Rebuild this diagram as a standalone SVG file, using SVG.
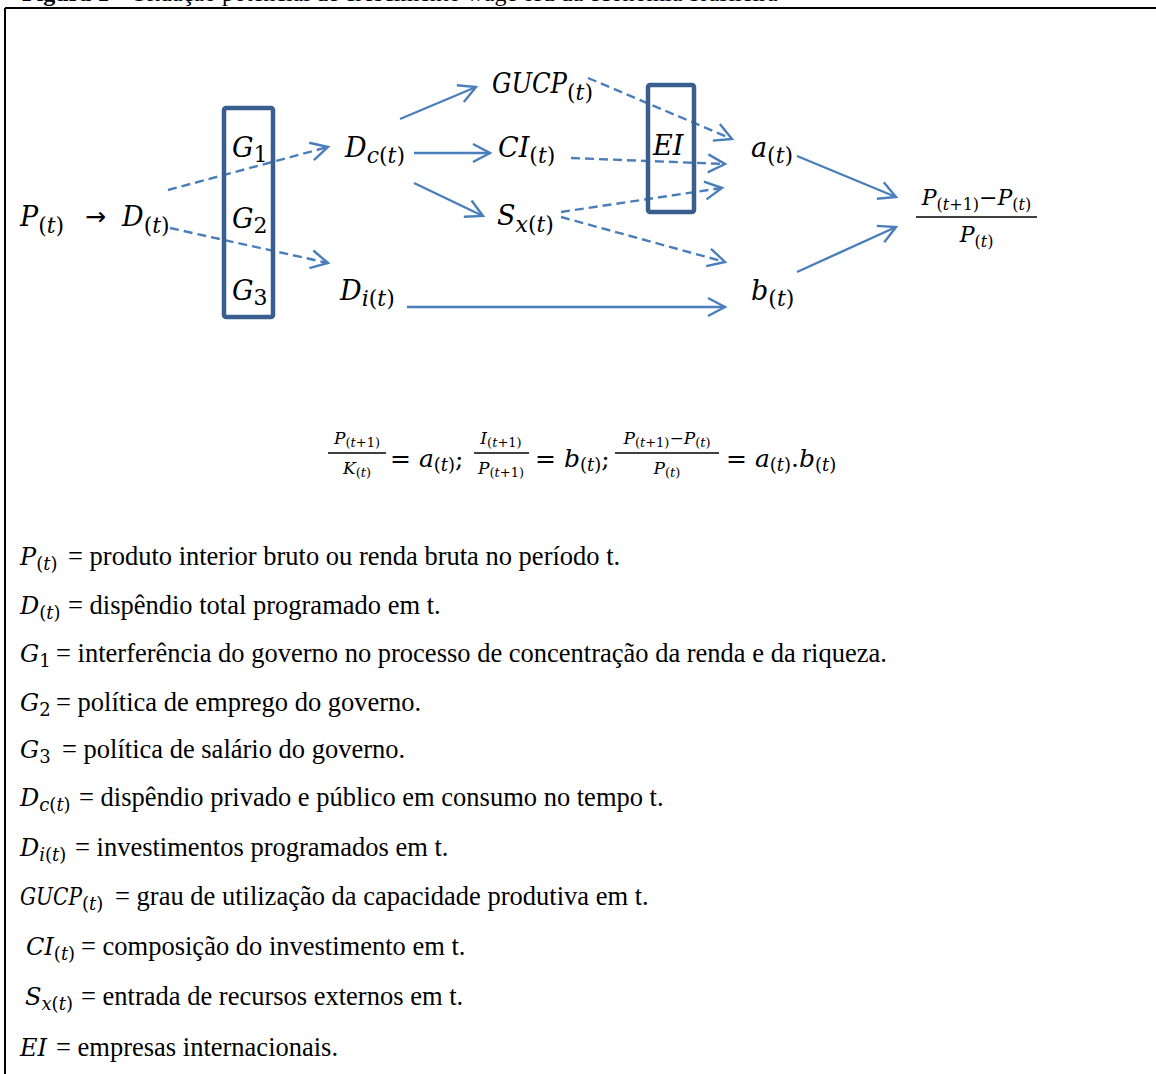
<svg xmlns="http://www.w3.org/2000/svg" width="1156" height="1074" viewBox="0 0 1156 1074">
  <style>
    .m { font-family: "DejaVu Serif", "Liberation Serif", serif; font-style: italic; fill: #000; }
    .u { font-style: normal; }
    .n { font-size: 27px; }
    .ns { font-size: 22px; }
    .lg { font-size: 24px; }
    .lgs { font-size: 18px; }
    .fm { font-size: 25px; }
    .fn { font-size: 17px; }
    .fns { font-size: 13px; }
    .fs { font-size: 18px; }
    .rf { font-size: 22px; }
    .rfs { font-size: 16px; }
    .t { font-family: "Liberation Serif", "Times New Roman", serif; font-size: 26.5px; fill: #000; }
    .cap { font-family: "Liberation Serif", "Times New Roman", serif; font-size: 24px; fill: #000; }
    .box { fill: none; stroke: #3a5f8f; stroke-width: 4.5; }
    .ar { fill: none; stroke: #4a7ebb; stroke-width: 2.4; marker-end: url(#ah); }
    .da { stroke-dasharray: 9 5; }
    .bar { stroke: #000; stroke-width: 1.6; }
  </style>
  <defs>
    <marker id="ah" markerUnits="userSpaceOnUse" markerWidth="24" markerHeight="24" viewBox="-20 -12 24 24" refX="0" refY="0" orient="auto">
      <path d="M-17,-9 L0,0 L-17,9" fill="none" stroke="#4a7ebb" stroke-width="2.4" stroke-dasharray="none"/>
    </marker>
  </defs>

  <rect width="1156" height="1074" fill="#fff"/>

  <!-- caption, cut by the page top -->
  <text class="cap" x="22" y="1"><tspan font-weight="bold">Figura 1</tspan> – Situação potencial de crescimento wage-led da economia brasileira</text>

  <!-- frame -->
  <path d="M5,8 H1156 M5,8 V1074" fill="none" stroke="#000" stroke-width="2"/>

  <!-- connectors -->
  <g id="connectors">
    <line class="ar da" x1="168" y1="190" x2="328" y2="147"/>
    <line class="ar da" x1="170" y1="228" x2="328" y2="263"/>
    <line class="ar" x1="400" y1="119" x2="476" y2="87"/>
    <line class="ar" x1="414" y1="153" x2="490" y2="153"/>
    <line class="ar" x1="414" y1="183" x2="483" y2="216"/>
    <line class="ar da" x1="588" y1="78" x2="732" y2="139"/>
    <line class="ar da" x1="571" y1="158" x2="725" y2="164"/>
    <line class="ar da" x1="561" y1="212" x2="722" y2="188"/>
    <line class="ar da" x1="561" y1="217" x2="725" y2="262"/>
    <line class="ar" x1="407" y1="307" x2="725" y2="307"/>
    <line class="ar" x1="797" y1="156" x2="896" y2="197"/>
    <line class="ar" x1="797" y1="272" x2="896" y2="227"/>
  </g>

  <!-- nodes -->
  <g id="node-P">
    <text class="m n" x="20" y="226">P<tspan class="ns" dy="7"><tspan class="u">(</tspan>t<tspan class="u">)</tspan></tspan></text>
    <text x="85" y="225" font-family="DejaVu Sans, sans-serif" font-size="25" fill="#000">→</text>
  </g>
  <g id="node-D">
    <text class="m n" x="122" y="226">D<tspan class="ns" dy="7"><tspan class="u">(</tspan>t<tspan class="u">)</tspan></tspan></text>
  </g>
  <g id="node-G">
    <rect class="box" x="224" y="108" width="49" height="209" rx="2"/>
    <text class="m n" x="232" y="157">G<tspan class="ns u" dy="5">1</tspan></text>
    <text class="m n" x="232" y="228">G<tspan class="ns u" dy="5">2</tspan></text>
    <text class="m n" x="232" y="300">G<tspan class="ns u" dy="5">3</tspan></text>
  </g>
  <g id="node-Dc">
    <text class="m n" x="345" y="157">D<tspan class="ns" dy="6">c<tspan class="u">(</tspan>t<tspan class="u">)</tspan></tspan></text>
  </g>
  <g id="node-Di">
    <text class="m n" x="340" y="300">D<tspan class="ns" dy="6">i<tspan class="u">(</tspan>t<tspan class="u">)</tspan></tspan></text>
  </g>
  <g id="node-GUCP">
    <text class="m n" x="492" y="93"><tspan textLength="75" lengthAdjust="spacingAndGlyphs">GUCP</tspan><tspan class="ns" dy="7"><tspan class="u">(</tspan>t<tspan class="u">)</tspan></tspan></text>
  </g>
  <g id="node-CI">
    <text class="m n" x="498" y="157">CI<tspan class="ns" dy="6"><tspan class="u">(</tspan>t<tspan class="u">)</tspan></tspan></text>
  </g>
  <g id="node-Sx">
    <text class="m n" x="497" y="225">S<tspan class="ns" dy="7">x<tspan class="u">(</tspan>t<tspan class="u">)</tspan></tspan></text>
  </g>
  <g id="node-EI">
    <rect class="box" x="648" y="85" width="46" height="127" rx="2"/>
    <text class="m n" x="653" y="155">EI</text>
  </g>
  <g id="node-a">
    <text class="m n" x="751" y="157">a<tspan class="ns" dy="6"><tspan class="u">(</tspan>t<tspan class="u">)</tspan></tspan></text>
  </g>
  <g id="node-b">
    <text class="m n" x="751" y="300">b<tspan class="ns" dy="6"><tspan class="u">(</tspan>t<tspan class="u">)</tspan></tspan></text>
  </g>
  <g id="node-growth">
    <text class="m rf" x="976.5" y="205" text-anchor="middle">P<tspan class="rfs" dy="5"><tspan class="u">(</tspan>t<tspan class="u">+1)</tspan></tspan><tspan class="u" dy="-5">−</tspan>P<tspan class="rfs" dy="5"><tspan class="u">(</tspan>t<tspan class="u">)</tspan></tspan></text>
    <line class="bar" x1="916" y1="217" x2="1037" y2="217" stroke-width="2.2"/>
    <text class="m rf" x="976.5" y="242" text-anchor="middle">P<tspan class="rfs" dy="5"><tspan class="u">(</tspan>t<tspan class="u">)</tspan></tspan></text>
  </g>

  <!-- model relations -->
  <g id="formula">
    <text class="m fn" x="357" y="444" text-anchor="middle">P<tspan class="fns" dy="3"><tspan class="u">(</tspan>t<tspan class="u">+1)</tspan></tspan></text>
    <line class="bar" x1="328" y1="453" x2="386" y2="453"/>
    <text class="m fn" x="357" y="474" text-anchor="middle">K<tspan class="fns" dy="3"><tspan class="u">(</tspan>t<tspan class="u">)</tspan></tspan></text>
    <text class="m fm" x="390" y="467"><tspan class="u">= </tspan>a<tspan class="fs" dy="4"><tspan class="u">(</tspan>t<tspan class="u">)</tspan></tspan><tspan class="u" dy="-4">;</tspan></text>

    <text class="m fn" x="501" y="444" text-anchor="middle">I<tspan class="fns" dy="3"><tspan class="u">(</tspan>t<tspan class="u">+1)</tspan></tspan></text>
    <line class="bar" x1="474" y1="453" x2="529" y2="453"/>
    <text class="m fn" x="501" y="474" text-anchor="middle">P<tspan class="fns" dy="3"><tspan class="u">(</tspan>t<tspan class="u">+1)</tspan></tspan></text>
    <text class="m fm" x="535" y="467"><tspan class="u">= </tspan>b<tspan class="fs" dy="4"><tspan class="u">(</tspan>t<tspan class="u">)</tspan></tspan><tspan class="u" dy="-4">;</tspan></text>

    <text class="m fn" x="667" y="444" text-anchor="middle">P<tspan class="fns" dy="3"><tspan class="u">(</tspan>t<tspan class="u">+1)</tspan></tspan><tspan class="u" dy="-3">−</tspan>P<tspan class="fns" dy="3"><tspan class="u">(</tspan>t<tspan class="u">)</tspan></tspan></text>
    <line class="bar" x1="615" y1="453" x2="719" y2="453"/>
    <text class="m fn" x="667" y="474" text-anchor="middle">P<tspan class="fns" dy="3"><tspan class="u">(</tspan>t<tspan class="u">)</tspan></tspan></text>
    <text class="m fm" x="726" y="467"><tspan class="u">= </tspan>a<tspan class="fs" dy="4"><tspan class="u">(</tspan>t<tspan class="u">)</tspan></tspan><tspan class="u" dy="-4">.</tspan>b<tspan class="fs" dy="4"><tspan class="u">(</tspan>t<tspan class="u">)</tspan></tspan></text>
  </g>

  <!-- legend -->
  <g id="legend">
    <text class="m lg" x="20" y="565">P<tspan class="lgs" dy="5"><tspan class="u">(</tspan>t<tspan class="u">)</tspan></tspan></text>
    <text class="t" x="68" y="565">= produto interior bruto ou renda bruta no período t.</text>

    <text class="m lg" x="20" y="614">D<tspan class="lgs" dy="5"><tspan class="u">(</tspan>t<tspan class="u">)</tspan></tspan></text>
    <text class="t" x="68" y="614">= dispêndio total programado em t.</text>

    <text class="m lg" x="20" y="662">G<tspan class="lgs u" dy="5">1</tspan></text>
    <text class="t" x="56" y="662">= interferência do governo no processo de concentração da renda e da riqueza.</text>

    <text class="m lg" x="20" y="711">G<tspan class="lgs u" dy="5">2</tspan></text>
    <text class="t" x="56" y="711">= política de emprego do governo.</text>

    <text class="m lg" x="20" y="758">G<tspan class="lgs u" dy="5">3</tspan></text>
    <text class="t" x="62" y="758">= política de salário do governo.</text>

    <text class="m lg" x="20" y="806">D<tspan class="lgs" dy="5">c<tspan class="u">(</tspan>t<tspan class="u">)</tspan></tspan></text>
    <text class="t" x="79" y="806">= dispêndio privado e público em consumo no tempo t.</text>

    <text class="m lg" x="20" y="856">D<tspan class="lgs" dy="5">i<tspan class="u">(</tspan>t<tspan class="u">)</tspan></tspan></text>
    <text class="t" x="75" y="856">= investimentos programados em t.</text>

    <text class="m lg" x="20" y="905"><tspan textLength="62" lengthAdjust="spacingAndGlyphs">GUCP</tspan><tspan class="lgs" dy="5"><tspan class="u">(</tspan>t<tspan class="u">)</tspan></tspan></text>
    <text class="t" x="115" y="905">= grau de utilização da capacidade produtiva em t.</text>

    <text class="m lg" x="26" y="955">CI<tspan class="lgs" dy="5"><tspan class="u">(</tspan>t<tspan class="u">)</tspan></tspan></text>
    <text class="t" x="81" y="955">= composição do investimento em t.</text>

    <text class="m lg" x="25" y="1005">S<tspan class="lgs" dy="5">x<tspan class="u">(</tspan>t<tspan class="u">)</tspan></tspan></text>
    <text class="t" x="81" y="1005">= entrada de recursos externos em t.</text>

    <text class="m lg" x="20" y="1056">EI</text>
    <text class="t" x="56" y="1056">= empresas internacionais.</text>
  </g>
</svg>
